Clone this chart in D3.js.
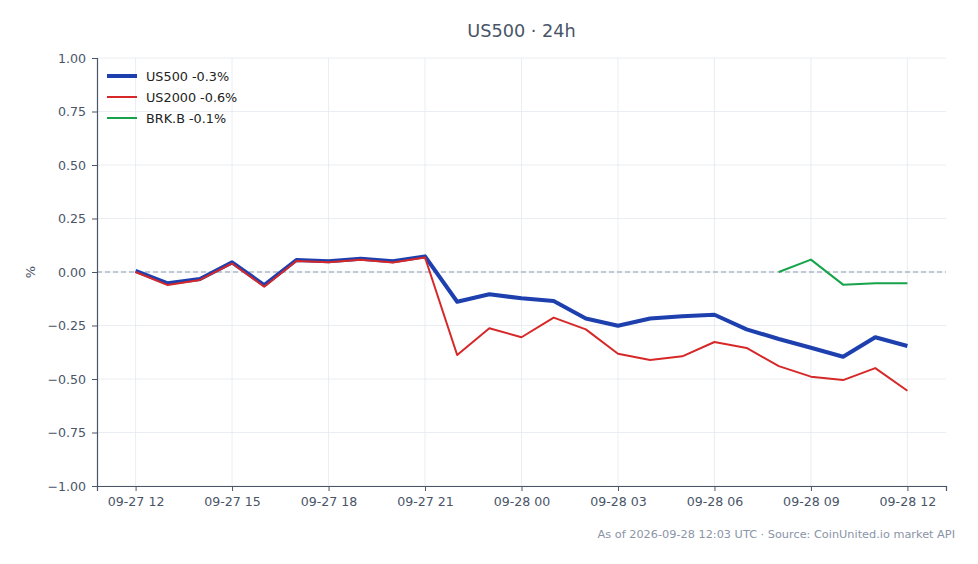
<!DOCTYPE html>
<html>
<head>
<meta charset="utf-8">
<script src="https://cdn.jsdelivr.net/npm/d3@7"></script>
<style>
  body { margin: 0; background: #fff; }
  svg { font-family: "DejaVu Sans", sans-serif; }
</style>
</head>
<body>
<div id="chart"></div>
<script>
// Hourly points, 09-27 12:00 to 09-28 12:00 UTC
const startTime = new Date(Date.UTC(2026, 8, 27, 12));
const hours = d3.range(25);

const us500 = [0.005, -0.053, -0.033, 0.045, -0.061, 0.056, 0.05, 0.062, 0.05, 0.073,
  -0.139, -0.104, -0.123, -0.136, -0.217, -0.251, -0.217, -0.207, -0.20, -0.268,
  -0.313, -0.354, -0.396, -0.305, -0.346];
const us2000 = [0.0, -0.061, -0.037, 0.04, -0.069, 0.051, 0.046, 0.057, 0.044, 0.068,
  -0.388, -0.263, -0.305, -0.213, -0.268, -0.382, -0.411, -0.394, -0.327, -0.355,
  -0.44, -0.489, -0.505, -0.449, -0.555];
// BRK.B only has quotes from 09-28 08:00
const brkHours = [20, 21, 22, 23, 24];
const brkb = [0.0, 0.058, -0.059, -0.053, -0.053];

const seriesNames = ["US500 -0.3%", "US2000 -0.6%", "BRK.B -0.1%"];
const seriesColors = ["#1e40af", "#d62828", "#16a34a"];
const seriesWidths = [4, 2, 2];
const yTicks = [-1, -0.75, -0.5, -0.25, 0, 0.25, 0.5, 0.75, 1];

const toTime = h => new Date(startTime.getTime() + h * 3600e3);

const series = [
  { values: hours.map((h, i) => ({ t: toTime(h), v: us500[i] })) },
  { values: hours.map((h, i) => ({ t: toTime(h), v: us2000[i] })) },
  { values: brkHours.map((h, i) => ({ t: toTime(h), v: brkb[i] })) }
];

const width = 978, height = 564;
const margin = { top: 58, right: 32, bottom: 78, left: 97 };

const svg = d3.select("#chart").append("svg")
  .attr("width", width).attr("height", height);

// 5% padding on both sides of the time range
const pad = 1.2 * 3600e3;
const x = d3.scaleTime()
  .domain([new Date(startTime.getTime() - pad), new Date(toTime(24).getTime() + pad)])
  .range([margin.left, width - margin.right]);
const y = d3.scaleLinear()
  .domain([-1, 1])
  .range([height - margin.bottom, margin.top]);

const xTickValues = d3.range(0, 25, 3).map(toTime);
const fmt = d3.utcFormat("%m-%d %H");

// grid
svg.append("g").selectAll("line").data(xTickValues).enter().append("line")
  .attr("x1", d => x(d)).attr("x2", d => x(d))
  .attr("y1", margin.top).attr("y2", height - margin.bottom)
  .attr("stroke", "#e5e8ee").attr("stroke-width", 0.8);
svg.append("g").selectAll("line").data(yTicks).enter().append("line")
  .attr("x1", margin.left).attr("x2", width - margin.right)
  .attr("y1", d => y(d)).attr("y2", d => y(d))
  .attr("stroke", "#e5e8ee").attr("stroke-width", 0.8);

// zero line
svg.append("line")
  .attr("x1", margin.left).attr("x2", width - margin.right)
  .attr("y1", y(0)).attr("y2", y(0))
  .attr("stroke", "#8c9ab3").attr("stroke-width", 1)
  .attr("stroke-dasharray", "5,3");

// axes
const xAxis = svg.append("g")
  .attr("transform", `translate(0,${height - margin.bottom})`)
  .call(d3.axisBottom(x).tickValues(xTickValues).tickFormat(d => fmt(d)).tickSize(5).tickPadding(6));
const yAxis = svg.append("g")
  .attr("transform", `translate(${margin.left},0)`)
  .call(d3.axisLeft(y).tickValues(yTicks).tickFormat(d3.format(".2f")).tickSize(5).tickPadding(6));
[xAxis, yAxis].forEach(a => {
  a.select(".domain").attr("stroke", "#4a5568").attr("stroke-width", 1.2);
  a.selectAll(".tick line").attr("stroke", "#4a5568");
  a.selectAll("text").attr("fill", "#4a5568").style("font-size", "12.6px")
    .style("font-family", "DejaVu Sans, sans-serif");
});
yAxis.selectAll("text").text(function() { return d3.select(this).text().replace("-", "\u2212"); });

// y label
svg.append("text")
  .attr("transform", `translate(35,${y(0)}) rotate(-90)`)
  .attr("text-anchor", "middle")
  .attr("fill", "#4a5568").style("font-size", "13px")
  .text("%");

// lines
const line = d3.line().x(d => x(d.t)).y(d => y(d.v));
series.forEach((s, i) => {
  svg.append("path")
    .datum(s.values)
    .attr("fill", "none")
    .attr("stroke", seriesColors[i])
    .attr("stroke-width", seriesWidths[i])
    .attr("stroke-linejoin", "round")
    .attr("d", line);
});

// title
svg.append("text")
  .attr("x", (margin.left + width - margin.right) / 2).attr("y", 37)
  .attr("text-anchor", "middle")
  .attr("fill", "#4a5568").style("font-size", "17.7px")
  .text("US500 \u00b7 24h");

// legend
const legend = svg.append("g").attr("transform", "translate(107,76)");
seriesNames.forEach((name, i) => {
  const g = legend.append("g").attr("transform", `translate(0,${i * 21})`);
  g.append("line").attr("x1", 0).attr("x2", 30).attr("y1", 0).attr("y2", 0)
    .attr("stroke", seriesColors[i]).attr("stroke-width", seriesWidths[i]);
  g.append("text").attr("x", 39).attr("y", 4.5)
    .attr("fill", "#222").style("font-size", "12.8px").text(name);
});

// footnote
svg.append("text")
  .attr("x", 955).attr("y", 538)
  .attr("text-anchor", "end")
  .attr("fill", "#8a94a6").style("font-size", "11.3px")
  .text("As of 2026-09-28 12:03 UTC \u00b7 Source: CoinUnited.io market API");
</script>
</body>
</html>
